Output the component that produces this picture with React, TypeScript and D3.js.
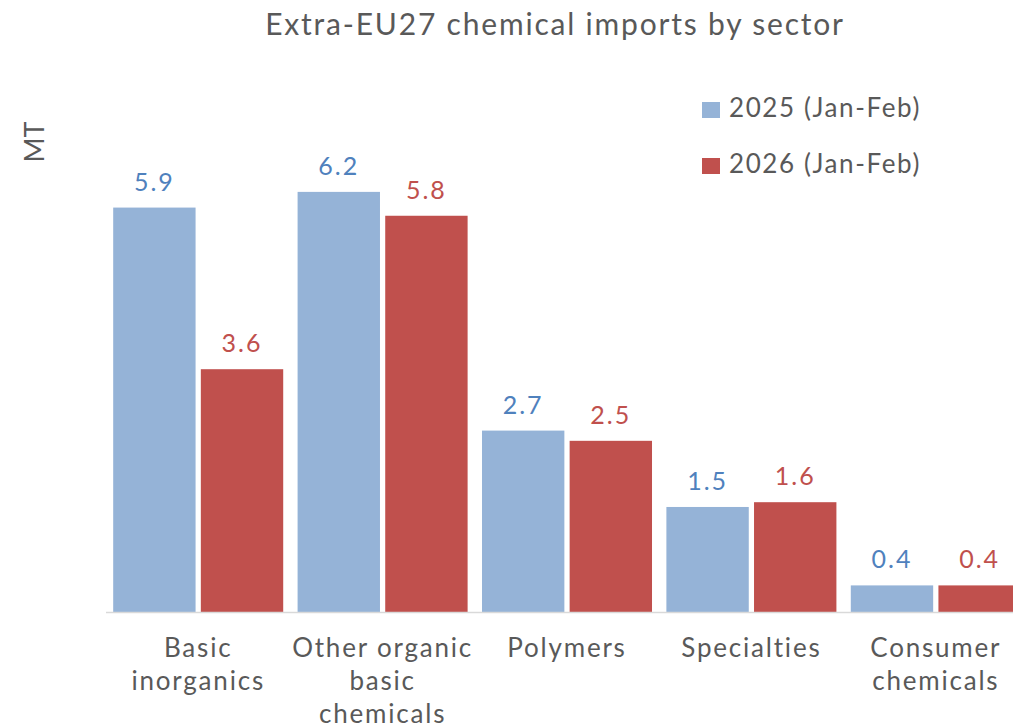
import React from "react";
import * as d3 from "d3";

const categories: string[][] = [
  ["Basic", "inorganics"],
  ["Other organic", "basic", "chemicals"],
  ["Polymers"],
  ["Specialties"],
  ["Consumer", "chemicals"],
];
const seriesNames = ["2025 (Jan-Feb)", "2026 (Jan-Feb)"];
const values2025 = [5.93, 6.16, 2.66, 1.54, 0.39];
const values2026 = [3.56, 5.81, 2.51, 1.61, 0.39];
const barColors = ["#95B3D7", "#C0504D"];
const labelColors = ["#4F81BD", "#C0504D"];
const title = "Extra-EU27 chemical imports by sector";
const yTitle = "MT";

const W = 1013;
const H = 725;
const FONT = "Lato, 'Open Sans', sans-serif";
const TEXT = "#595959";

export default function App() {
  const keys = categories.map((c) => c.join(" "));
  const x = d3.scaleBand<string>().domain(keys).range([106, 1028]).paddingInner(0.078).paddingOuter(0.039);
  const xs = d3.scaleBand<number>().domain([0, 1]).range([0, x.bandwidth()]).paddingInner(0.06);
  const y = d3.scaleLinear().domain([0, 7]).range([612, 612 - 7 * 68.2]);
  const series = [values2025, values2026];
  const fmt = d3.format(".1f");

  return (
    <svg width={W} height={H} style={{ position: "absolute", left: 0, top: 0, background: "#fff" }} fontFamily={FONT}>
      <rect x={0} y={0} width={W} height={H} fill="#fff" />
      <text x={555} y={35} textAnchor="middle" fontSize={30} fill={TEXT} letterSpacing={1.8}>
        {title}
      </text>
      <text transform="translate(44,142) rotate(-90)" textAnchor="middle" fontSize={27} fill={TEXT}>
        {yTitle}
      </text>
      {series.map((vals, si) =>
        vals.map((v, i) => {
          const bx = (x(keys[i]) ?? 0) + (xs(si) ?? 0);
          const bw = xs.bandwidth();
          return (
            <g key={`${si}-${i}`}>
              <rect x={bx} y={y(v)} width={bw} height={y(0) - y(v)} fill={barColors[si]} />
              <text x={bx + bw / 2} y={y(v) - 17} textAnchor="middle" fontSize={25} fill={labelColors[si]} letterSpacing={2}>
                {fmt(v)}
              </text>
            </g>
          );
        })
      )}
      <line x1={106} x2={W} y1={y(0) + 0.5} y2={y(0) + 0.5} stroke="#D9D9D9" strokeWidth={1.5} />
      {categories.map((lines, i) => (
        <text key={i} textAnchor="middle" fontSize={26} fill={TEXT} letterSpacing={1.8}>
          {lines.map((l, j) => (
            <tspan key={j} x={(x(keys[i]) ?? 0) + x.bandwidth() / 2} y={657 + j * 33}>
              {l}
            </tspan>
          ))}
        </text>
      ))}
      {seriesNames.map((n, si) => (
        <g key={n} transform={`translate(702, ${102 + si * 56})`}>
          <rect x={0} y={0} width={18} height={16} fill={barColors[si]} />
          <text x={27} y={15} fontSize={26} fill={TEXT} letterSpacing={1.6}>
            {n}
          </text>
        </g>
      ))}
    </svg>
  );
}
